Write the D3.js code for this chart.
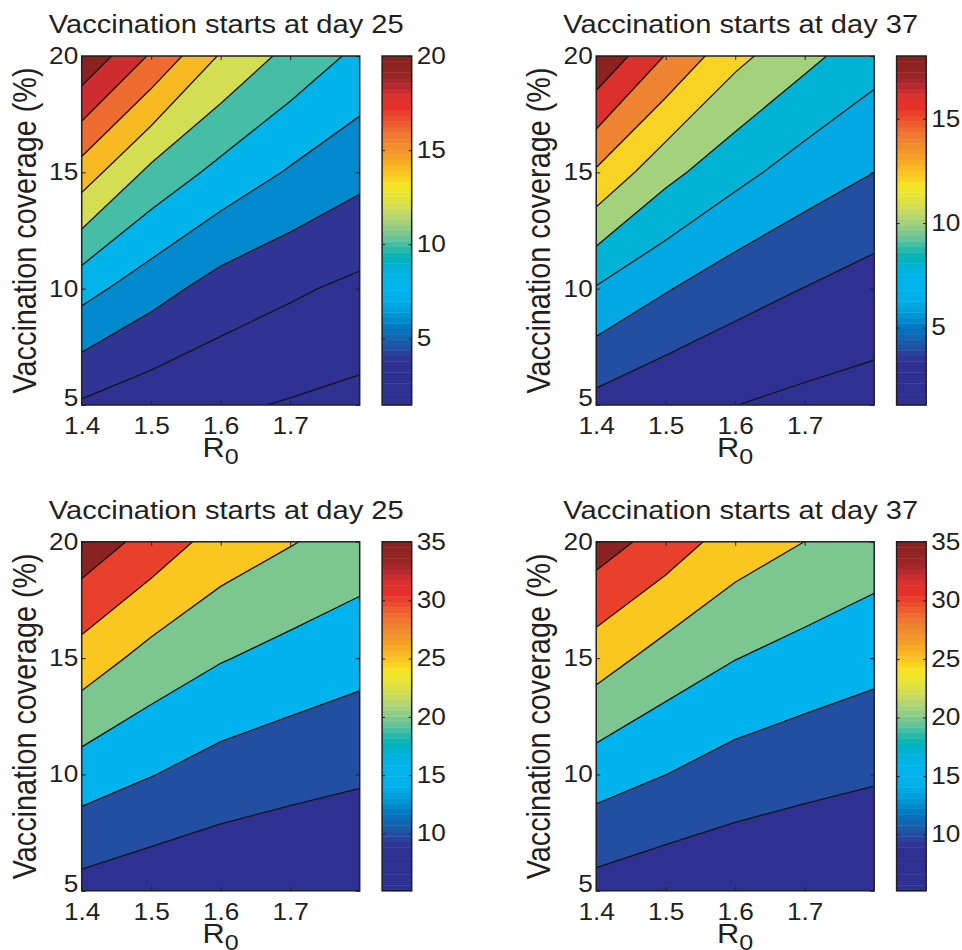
<!DOCTYPE html>
<html>
<head>
<meta charset="utf-8">
<script src="https://cdn.jsdelivr.net/npm/d3@7"></script>
<style>
  html, body { margin: 0; padding: 0; background: #ffffff; }
  svg { display: block; }
  text { font-family: "Liberation Sans", Arial, Helvetica, sans-serif; fill: #231f20; }
</style>
</head>
<body>
<svg id="chart" width="962" height="950"></svg>
<script>
// ---- grid axes ----
const r0Values = [1.4, 1.5, 1.6, 1.7, 1.8];
const coverageValues = [5, 10, 15, 20];
const r0Ticks = [1.4, 1.5, 1.6, 1.7];
const coverageTicks = [5, 10, 15, 20];

// ---- simulated outcome on the grid: rows = coverage 5..20, columns = R0 1.4..1.8 ----
const topDay25 = [
  [3.74, 2.80, 2.30, 1.85, 1.46],
  [8.73, 6.80, 5.18, 4.30, 3.54],
  [15.1, 11.5, 9.40, 7.80, 6.57],
  [21.7, 17.75, 13.8, 11.4, 9.53]
];
const topDay37 = [
  [3.35, 2.40, 2.02, 1.53, 1.29],
  [7.85, 6.15, 4.77, 3.96, 3.13],
  [13.75, 10.6, 8.64, 7.05, 6.00],
  [19.8, 15.9, 12.55, 10.55, 8.80]
];
const bottomDay25 = [
  [8.27, 6.83, 6.06, 5.53, 5.10],
  [17.55, 15.17, 12.9, 11.64, 10.66],
  [27.9, 23.2, 20.33, 18.34, 16.7],
  [38.3, 33.1, 27.9, 25.3, 22.9]
];
const bottomDay37 = [
  [8.19, 6.70, 6.00, 5.41, 5.20],
  [17.3, 15.03, 12.79, 11.53, 10.54],
  [27.3, 22.97, 20.12, 18.2, 16.6],
  [37.5, 32.8, 27.6, 24.98, 22.7]
];

// ---- contour levels and colorbar ticks ----
const topDay25Levels = [2, 4, 6, 8, 10, 12, 14, 16, 18, 20];
const topDay37Levels = [2, 4, 6, 8, 10, 12, 14, 16, 18];
const bottomLevels = [10, 15, 20, 25, 30, 35];
const topDay25BarTicks = [5, 10, 15, 20];
const topDay37BarTicks = [5, 10, 15];
const bottomBarTicks = [10, 15, 20, 25, 30, 35];

const titles = ["Vaccination starts at day 25", "Vaccination starts at day 37"];
const yLabel = "Vaccination coverage (%)";

// ---- 64-entry jet-like colormap ----
const cmapStops = [
  [0.000, "#2e3192"], [0.120, "#2e3192"], [0.135, "#2e3a96"], [0.150, "#28459d"],
  [0.165, "#1e56a5"], [0.192, "#1266b0"], [0.221, "#0079c1"], [0.245, "#0090d0"],
  [0.275, "#00a4df"], [0.300, "#00b0ea"], [0.340, "#00b4ec"], [0.372, "#00b4e6"],
  [0.400, "#00b3d2"], [0.421, "#00b3b8"], [0.450, "#2dbaa8"], [0.465, "#52c0a4"],
  [0.492, "#7cc790"], [0.525, "#a4d17b"], [0.550, "#bfd86a"], [0.575, "#d6df4e"],
  [0.610, "#ebe632"], [0.636, "#f6e421"], [0.650, "#f8d424"], [0.668, "#f9c61f"],
  [0.682, "#f8ba22"], [0.711, "#f4a224"], [0.757, "#ef8830"], [0.789, "#ef7130"],
  [0.811, "#ec5a2d"], [0.836, "#e9462d"], [0.854, "#e8302a"], [0.874, "#e2302b"],
  [0.898, "#d6302c"], [0.911, "#c42a30"], [0.931, "#a8262e"], [0.960, "#952424"],
  [1.000, "#8b2222"]
];
const cmapScale = d3.scaleLinear()
  .domain(cmapStops.map(d => d[0]))
  .range(cmapStops.map(d => d[1]))
  .interpolate(d3.interpolateRgb);
const NCOL = 64;
const colormap = d3.range(NCOL).map(i => cmapScale(i / (NCOL - 1)));

const panels = [
  { title: titles[0], values: topDay25, levels: topDay25Levels, barTicks: topDay25BarTicks, col: 0, row: 0 },
  { title: titles[1], values: topDay37, levels: topDay37Levels, barTicks: topDay37BarTicks, col: 1, row: 0 },
  { title: titles[0], values: bottomDay25, levels: bottomLevels, barTicks: bottomBarTicks, col: 0, row: 1 },
  { title: titles[1], values: bottomDay37, levels: bottomLevels, barTicks: bottomBarTicks, col: 1, row: 1 }
];

// ---- layout ----
const SX = 1.14;              // horizontal text stretch
const plotW = 278, plotH = 349;
const colX = [81.7, 596.2];
const rowY = [56, 541.8];
const barGap = 22.4, barW = 29.6;
const INK = "#231f20";

const svg = d3.select("#chart");

panels.forEach((p, pi) => {
  const x0 = colX[p.col], y0 = rowY[p.row];
  const g = svg.append("g");

  const xScale = d3.scaleLinear().domain([r0Values[0], r0Values[r0Values.length - 1]]).range([x0, x0 + plotW]);
  const yScale = d3.scaleLinear().domain([coverageValues[0], coverageValues[coverageValues.length - 1]]).range([y0 + plotH, y0]);

  const nx = r0Values.length, ny = coverageValues.length;
  const flat = p.values.flat();
  const vmin = d3.min(flat), vmax = d3.max(flat);
  const levels = p.levels.filter(l => l <= vmax);
  const cmin = vmin, cmax = d3.max(levels);

  const colorOf = v => {
    const i = Math.floor((v - cmin) / (cmax - cmin) * NCOL);
    return colormap[Math.max(0, Math.min(NCOL - 1, i))];
  };

  // grid index space -> data space
  const colToR0 = d3.scaleLinear().domain(d3.range(nx).map(i => i + 0.5)).range(r0Values);
  const rowToCov = d3.scaleLinear().domain(d3.range(ny).map(i => i + 0.5)).range(coverageValues);
  const path = d3.geoPath(d3.geoTransform({
    point(x, y) { this.stream.point(xScale(colToR0(x)), yScale(rowToCov(y))); }
  }));

  const thresholds = [vmin - 1e-6, ...levels];
  const contours = d3.contours().size([nx, ny]).thresholds(thresholds)(flat);

  const clipId = "clip" + pi;
  svg.append("clipPath").attr("id", clipId)
    .append("rect").attr("x", x0).attr("y", y0).attr("width", plotW).attr("height", plotH);

  const plot = g.append("g").attr("clip-path", `url(#${clipId})`);
  plot.selectAll("path.band").data(contours).join("path")
    .attr("class", "band")
    .attr("d", path)
    .attr("fill", (d, i) => colorOf(i === 0 ? vmin : d.value))
    .attr("stroke", "none");
  plot.selectAll("path.iso").data(contours.slice(1)).join("path")
    .attr("class", "iso")
    .attr("d", path)
    .attr("fill", "none")
    .attr("stroke", "#151515")
    .attr("stroke-width", 1.3);

  // axes with inward ticks on all four sides
  const styleAxis = sel => {
    sel.select(".domain").remove();
    sel.selectAll(".tick line").attr("stroke", INK).attr("stroke-width", 1);
    sel.selectAll(".tick text").attr("fill", INK).attr("font-size", 23)
      .attr("font-family", null).attr("transform", `scale(${SX},1)`);
  };
  g.append("g").attr("transform", `translate(0,${y0 + plotH})`)
    .call(d3.axisBottom(xScale).tickValues(r0Ticks).tickSize(-4).tickPadding(12.5).tickFormat(d3.format(".1f")))
    .call(styleAxis);
  g.append("g").attr("transform", `translate(0,${y0})`)
    .call(d3.axisTop(xScale).tickValues(r0Ticks).tickSize(-4).tickFormat(""))
    .call(styleAxis);
  g.append("g").attr("transform", `translate(${x0},0)`)
    .call(d3.axisLeft(yScale).tickValues(coverageTicks).tickSize(-4).tickPadding(3))
    .call(styleAxis)
    .call(a => a.selectAll(".tick text").filter(d => d === coverageTicks[0]).attr("y", -7));
  g.append("g").attr("transform", `translate(${x0 + plotW},0)`)
    .call(d3.axisRight(yScale).tickValues(coverageTicks).tickSize(-4).tickFormat(""))
    .call(styleAxis);

  g.append("rect").attr("x", x0).attr("y", y0).attr("width", plotW).attr("height", plotH)
    .attr("fill", "none").attr("stroke", INK).attr("stroke-width", 1.5);

  // colorbar
  const bx = x0 + plotW + barGap;
  const cScale = d3.scaleLinear().domain([cmin, cmax]).range([y0 + plotH, y0]);
  g.append("g").selectAll("rect").data(colormap).join("rect")
    .attr("x", bx).attr("width", barW)
    .attr("y", (c, i) => cScale(cmin + (i + 1) / NCOL * (cmax - cmin)))
    .attr("height", (c, i) => cScale(cmin + i / NCOL * (cmax - cmin)) - cScale(cmin + (i + 1) / NCOL * (cmax - cmin)) + 0.4)
    .attr("fill", c => c);
  g.append("g").attr("transform", `translate(${bx},0)`)
    .call(d3.axisLeft(cScale).tickValues(p.barTicks).tickSize(-3).tickFormat(""))
    .call(styleAxis);
  g.append("g").attr("transform", `translate(${bx + barW},0)`)
    .call(d3.axisRight(cScale).tickValues(p.barTicks).tickSize(-3).tickPadding(4.4))
    .call(styleAxis);
  g.append("rect").attr("x", bx).attr("y", y0).attr("width", barW).attr("height", plotH)
    .attr("fill", "none").attr("stroke", INK).attr("stroke-width", 1.5);

  // title
  g.append("text")
    .attr("transform", `translate(${x0 + plotW / 2 + 5.5},${y0 - 22.7}) scale(${SX},1)`)
    .attr("text-anchor", "middle").attr("font-size", 25.5)
    .text(p.title);

  // y label
  g.append("text")
    .attr("transform", `translate(${x0 - 46},${y0 + plotH / 2}) scale(${SX},1) rotate(-90)`)
    .attr("text-anchor", "middle").attr("font-size", 28.8)
    .text(yLabel);

  // x label R0
  const xl = g.append("text")
    .attr("transform", `translate(${x0 + plotW / 2},${y0 + plotH + 52}) scale(${SX},1)`)
    .attr("text-anchor", "middle").attr("font-size", 27);
  xl.append("tspan").text("R");
  xl.append("tspan").attr("dy", 7).attr("font-size", 22).text("0");
});
</script>
</body>
</html>
